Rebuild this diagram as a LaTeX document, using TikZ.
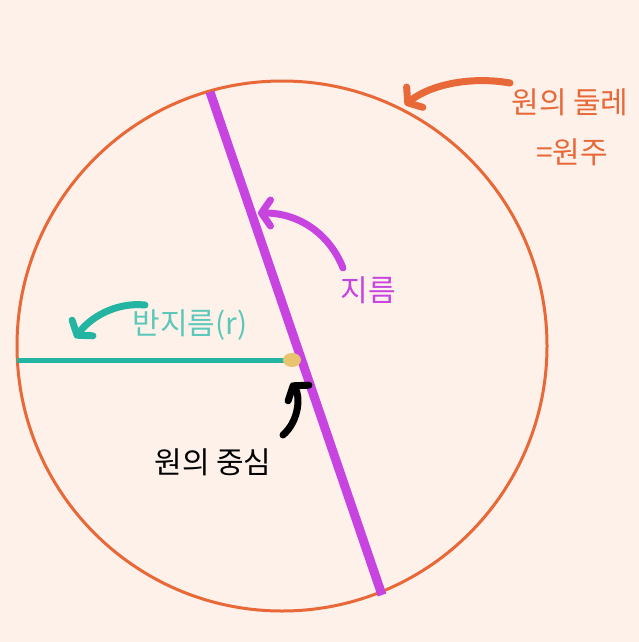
\documentclass[tikz,border=0pt]{standalone}
\usepackage{fontspec}
\newfontfamily\kr{Noto Sans CJK KR}
\usepackage{tikz}
\usetikzlibrary{shapes.geometric, arrows.meta, positioning, calc}

\definecolor{bgpeach}{RGB}{253,241,234}
\definecolor{circorange}{RGB}{232,104,56}
\definecolor{diampurple}{RGB}{200,68,224}
\definecolor{radteal}{RGB}{36,181,162}
\definecolor{radtext}{RGB}{92,200,186}
\definecolor{dotyellow}{RGB}{232,196,112}

\begin{document}
\begin{tikzpicture}[
    x=1pt, y=-1pt,
    label/.style={font=\kr\fontsize{30}{34}\selectfont, inner sep=0pt},
    pointer/.style={line width=7pt, line cap=round, line join=round,
        -{Straight Barb[length=9pt, width=26pt, line cap=round, line join=round]}}
]

% Background
\fill[bgpeach] (0,0) rectangle (639,642);
\useasboundingbox (0,0) rectangle (639,642);

% Circle
\coordinate (center) at (282,346);
\draw[circorange, line width=3pt] (center) circle (265);

% Radius
\coordinate (radleft) at (17,360);
\coordinate (mid) at (292,360);
\draw[radteal, line width=5pt] (radleft) -- (mid);

% Diameter
\coordinate (diamtop) at (210,92);
\coordinate (diambot) at (382,595);
\draw[diampurple, line width=9pt] (diamtop) -- (diambot);

% Centre dot
\node[ellipse, fill=dotyellow, minimum width=18pt, minimum height=14pt, inner sep=0pt] (dot) at (mid) {};

% Labels
\node[label, text=circorange] (perim) at (570,102) {원의 둘레};
\node[label, text=circorange] (perimeq) at (572,152) {=원주};
\node[label, text=diampurple] (diam) at (368,290) {지름};
\node[label, text=radtext] (rad) at (190,325) {반지름(r)};
\node[label, text=black] (cent) at (213,462) {원의 중심};

% Arrow tails and tips
\coordinate (perimtail) at (510,83);
\coordinate (perimtip) at (405,105);
\coordinate (diamtail) at (343,268);
\coordinate (diamtip) at (258,213);
\coordinate (radtail) at (145,305);
\coordinate (radtip) at (75,338);
\coordinate (centtail) at (283,435);
\coordinate (centtip) at (291,383);

% Arrows
\draw[pointer, circorange] (perimtail) .. controls (470,76) and (430,85) .. (perimtip);
\draw[pointer, diampurple] (diamtail) .. controls (330,235) and (300,213) .. (diamtip);
\draw[pointer, radteal] (radtail) .. controls (115,302) and (90,318) .. (radtip);
\draw[pointer, black] (centtail) .. controls (300,420) and (300,395) .. (centtip);

\end{tikzpicture}
\end{document}
